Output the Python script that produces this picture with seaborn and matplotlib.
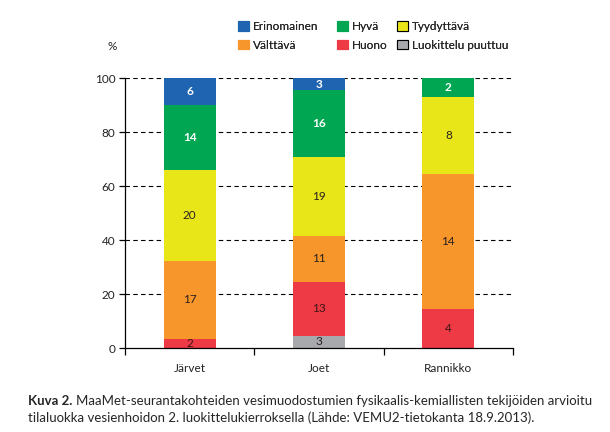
import matplotlib
matplotlib.use("Agg")
import matplotlib.pyplot as plt
import seaborn as sns
import pandas as pd
import numpy as np
from matplotlib.patches import Patch

sns.set_theme(style="white")
plt.rcParams['font.family'] = ['Lato', 'DejaVu Sans']

categories = ["Järvet", "Joet", "Rannikko"]
classes = ["Luokittelu puuttuu", "Huono", "Välttävä", "Tyydyttävä", "Hyvä", "Erinomainen"]
counts_jarvet = [0, 2, 17, 20, 14, 6]
counts_joet = [3, 13, 11, 19, 16, 3]
counts_rannikko = [0, 4, 14, 8, 2, 0]
colors = {"Erinomainen": "#1f64b0", "Hyvä": "#00a651", "Tyydyttävä": "#e8e619",
          "Välttävä": "#f7962a", "Huono": "#ee3a45", "Luokittelu puuttuu": "#a7a9ac"}
text_colors = {"Erinomainen": "white", "Hyvä": "white", "Tyydyttävä": "#2a1f1f",
               "Välttävä": "#2a1f1f", "Huono": "#3a1515", "Luokittelu puuttuu": "#2a1f1f"}
yticks = [0, 20, 40, 60, 80, 100]

rows = []
for cat, cnts in zip(categories, [counts_jarvet, counts_joet, counts_rannikko]):
    total = sum(cnts)
    cum = 0.0
    for cls, c in zip(classes, cnts):
        pct = 100.0 * c / total
        rows.append({"cat": cat, "cls": cls, "count": c, "bottom": cum, "top": cum + pct})
        cum += pct
df = pd.DataFrame(rows)

fig = plt.figure(figsize=(6.10, 4.32), dpi=100)
ax = fig.add_axes([0.205, 0.1944, 0.636, 0.625])

# grid
for yv in yticks[1:]:
    ax.axhline(yv, color="black", lw=0.8, dashes=(4, 3), zorder=0)

# stacked: draw from top class down so lower ones overlay
for cls in classes[::-1]:
    sub = df[df["cls"] == cls]
    sns.barplot(data=sub, x="cat", y="top", order=categories, color=colors[cls],
                width=0.4, saturation=1, ax=ax, zorder=2, linewidth=0)

for _, r in df.iterrows():
    if r["count"] > 0:
        xi = categories.index(r["cat"])
        ax.text(xi, (r["bottom"] + r["top"]) / 2, str(r["count"]), ha="center", va="center",
                fontsize=8.5, color=text_colors[r["cls"]], zorder=3,
                fontweight="bold" if r["cls"] in ("Erinomainen", "Hyvä") else "normal")

ax.set_xlim(-0.5, 2.5)
ax.set_ylim(0, 100)
ax.set_yticks(yticks)
ax.set_xticks([0, 1, 2])
ax.set_xticklabels(categories)
ax.set_xticks([-0.5, 0.5, 1.5, 2.5], minor=True)
ax.tick_params(axis="x", which="major", length=0, pad=11, labelsize=8.5, colors="#222222")
ax.tick_params(axis="x", which="minor", length=5, width=0.9, direction="out", color="black", bottom=True)
ax.tick_params(axis="y", length=4, width=0.9, direction="out", color="black", left=True,
               labelsize=8.5, labelcolor="#222222", pad=3)
ax.set_xlabel("")
ax.set_ylabel("")
for s in ["top", "right"]:
    ax.spines[s].set_visible(False)
for s in ["left", "bottom"]:
    ax.spines[s].set_color("black")
    ax.spines[s].set_linewidth(0.9)

fig.text(107 / 610, 1 - 46 / 432, "%", fontsize=8.5, ha="left", va="center", color="#222222")

leg_cols = [["Erinomainen", "Välttävä"], ["Hyvä", "Huono"], ["Tyydyttävä", "Luokittelu puuttuu"]]
leg_x = [238, 337, 397]
for col, lx in zip(leg_cols, leg_x):
    handles = []
    for cls in col:
        ec = "black" if cls in ("Tyydyttävä", "Luokittelu puuttuu") else colors[cls]
        handles.append(Patch(facecolor=colors[cls], edgecolor=ec, linewidth=0.8, label=cls))
    leg = fig.legend(handles=handles, ncol=1, loc="center left",
                     bbox_to_anchor=(lx / 610, 1 - 36 / 432),
                     frameon=False, fontsize=8.5, handlelength=0.9, handleheight=0.9,
                     handletextpad=0.4, labelspacing=0.6, borderpad=0, borderaxespad=0)
    fig.add_artist(leg)

fig.text(28 / 610, 1 - 401 / 432, "Kuva 2.", fontsize=9.5, fontweight="bold", ha="left", va="center")
fig.text(76 / 610, 1 - 401 / 432,
         "MaaMet-seurantakohteiden vesimuodostumien fysikaalis-kemiallisten tekijöiden arvioitu",
         fontsize=9.5, ha="left", va="center")
fig.text(28 / 610, 1 - 418 / 432,
         "tilaluokka vesienhoidon 2. luokittelukierroksella (Lähde: VEMU2-tietokanta 18.9.2013).",
         fontsize=9.5, ha="left", va="center")

fig.savefig("out.png", dpi=100)
